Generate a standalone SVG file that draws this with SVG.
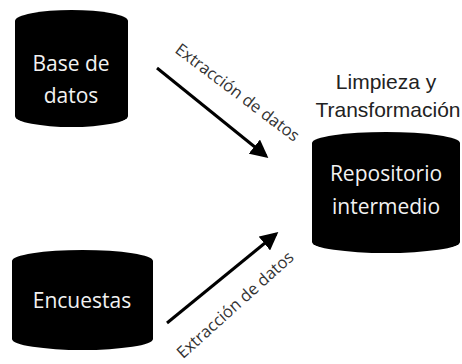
<svg xmlns="http://www.w3.org/2000/svg" width="462" height="364" viewBox="0 0 462 364">
<defs>
<style>
.cyl{fill:#000}
.nt{font-family:"Open Sans","Liberation Sans",sans-serif;font-size:21px;fill:#f2f2f2;text-anchor:middle}
.lb{font-family:"Open Sans","Liberation Sans",sans-serif;font-size:16.5px;fill:#333;text-anchor:middle}
.tt{font-family:"Liberation Sans",Arial,sans-serif;font-size:21px;fill:#222;text-anchor:middle}
.ar{stroke:#000;stroke-width:3;fill:none}
</style>
<marker id="ah" markerWidth="6" markerHeight="6" refX="5" refY="3" orient="auto" markerUnits="strokeWidth">
<path d="M0,0 L6,3 L0,6 Z" fill="#000"/>
</marker>
</defs>
<rect width="462" height="364" fill="#fff"/>
<g id="base-datos">
<path class="cyl" d="M15,21 A56.5,11 0 0 1 128,21 L128,116 A56.5,11 0 0 1 15,116 Z"/>
<text class="nt" x="71" y="71">Base de</text>
<text class="nt" x="71" y="103">datos</text>
</g>
<g id="encuestas">
<path class="cyl" d="M12,261 A70.5,11 0 0 1 153,261 L153,339 A70.5,11 0 0 1 12,339 Z"/>
<text class="nt" x="82" y="308">Encuestas</text>
</g>
<g id="repositorio">
<text class="tt" x="386" y="89">Limpieza y</text>
<text class="tt" x="388" y="117">Transformación</text>
<path class="cyl" d="M312,143 A74,11 0 0 1 460,143 L460,242 A74,11 0 0 1 312,242 Z"/>
<text class="nt" x="386" y="181">Repositorio</text>
<text class="nt" x="386" y="214">intermedio</text>
</g>
<g id="connectors">
<line class="ar" x1="157" y1="68" x2="266" y2="156" marker-end="url(#ah)"/>
<line class="ar" x1="167" y1="323" x2="276" y2="234" marker-end="url(#ah)"/>
<text class="lb" transform="translate(234,97) rotate(37)">Extracción de datos</text>
<text class="lb" transform="translate(239,309) rotate(-42)">Extracción de datos</text>
</g>
</svg>
